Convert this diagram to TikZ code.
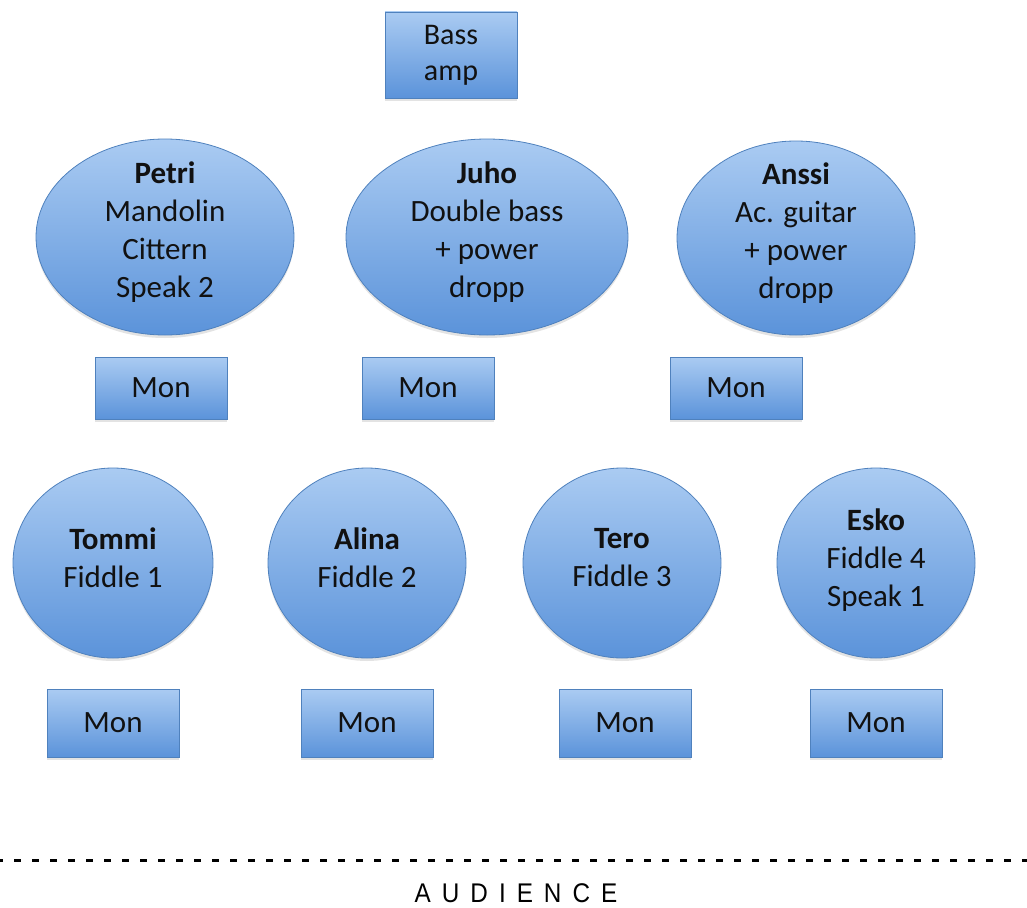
\documentclass[tikz,border=0pt]{standalone}
\usepackage{fontspec}
\setmainfont{Carlito}
\newfontfamily\audfont[FakeStretch=0.9]{Liberation Sans}
\usetikzlibrary{shapes.geometric,shadows}
\definecolor{bord}{HTML}{4F81BD}
\definecolor{topc}{HTML}{AACBF2}
\definecolor{botc}{HTML}{5B93DA}
\definecolor{txt}{HTML}{111111}
\begin{document}
\begin{tikzpicture}[x=1pt,y=-1pt,
  blob/.style={draw=bord, line width=0.8pt, top color=topc, bottom color=botc,
    drop shadow={opacity=0.22, shadow xshift=0pt, shadow yshift=-3pt}},
  player/.style={blob, ellipse, inner sep=0pt},
  box/.style={blob, rectangle, inner sep=0pt, font=\fontsize{31}{38}\selectfont, text=txt, align=center},
  mon/.style={box, minimum width=132pt, minimum height=62pt},
  lbl/.style={font=\fontsize{31}{38}\selectfont, text=txt, align=center, yshift=5pt}]
\useasboundingbox (0,0) rectangle (1027,907);
% bass amp
\node[box, minimum width=132pt, minimum height=86pt, font=\fontsize{30}{36}\selectfont] (amp) at (451,55) {Bass\\amp};
% back row
\node[player, minimum width=258pt, minimum height=196pt] (petri) at (165,237) {};
\node[lbl] (petri-t) at (petri) {\textbf{Petri}\\Mandolin\\Cittern\\Speak 2};
\node[player, minimum width=282pt, minimum height=196pt] (juho) at (487,237) {};
\node[lbl] (juho-t) at (juho) {\textbf{Juho}\\Double bass\\+ power\\dropp};
\node[player, minimum width=238pt, minimum height=194pt] (anssi) at (796,238) {};
\node[lbl] (anssi-t) at (anssi) {\textbf{Anssi}\\Ac. guitar\\+ power\\dropp};
\node[mon] (mon1) at (161,388) {Mon};
\node[mon] (mon2) at (428,388) {Mon};
\node[mon] (mon3) at (736,388) {Mon};
% front row
\node[player, minimum width=200pt, minimum height=190pt] (tommi) at (113,563) {};
\node[lbl] (tommi-t) at (tommi) {\textbf{Tommi}\\Fiddle 1};
\node[player, minimum width=198pt, minimum height=190pt] (alina) at (367,563) {};
\node[lbl] (alina-t) at (alina) {\textbf{Alina}\\Fiddle 2};
\node[player, minimum width=198pt, minimum height=190pt] (tero) at (622,563) {};
\node[lbl] (tero-t) at (tero) {\textbf{Tero}\\Fiddle 3};
\node[player, minimum width=198pt, minimum height=190pt] (esko) at (876,563) {};
\node[lbl, yshift=-2pt] (esko-t) at (esko) {\textbf{Esko}\\Fiddle 4\\Speak 1};
\node[mon, minimum height=68pt] (mon4) at (113,723) {Mon};
\node[mon, minimum height=68pt] (mon5) at (367,723) {Mon};
\node[mon, minimum height=68pt] (mon6) at (625,723) {Mon};
\node[mon, minimum height=68pt] (mon7) at (876,723) {Mon};
% audience line
\coordinate (dl) at (0,860);
\coordinate (dr) at (1027,860);
\draw[line width=3pt, dash pattern=on 7pt off 11pt, dash phase=4pt] (dl) -- (dr);
\node[font=\audfont\fontsize{27}{27}\selectfont, text=black] (aud) at (516,893)
  {\spaceskip=11pt A U D I E N C E};
\end{tikzpicture}
\end{document}
